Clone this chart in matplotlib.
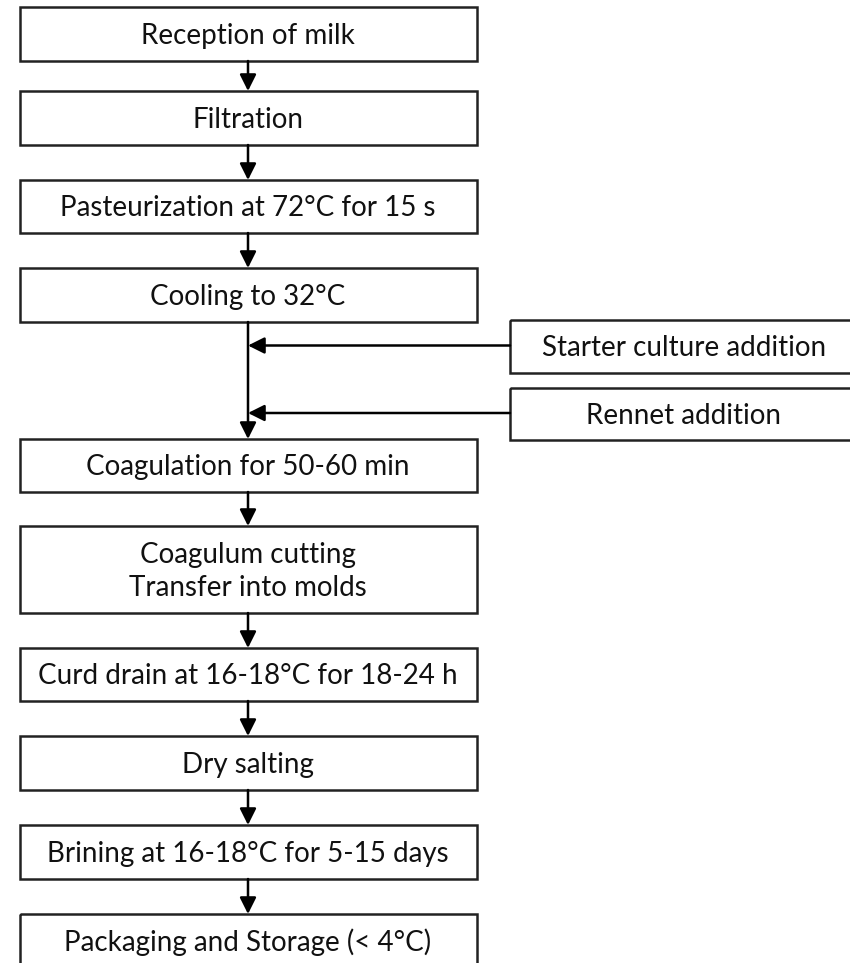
import matplotlib
matplotlib.use("Agg")
import matplotlib.pyplot as plt
from matplotlib.patches import Rectangle

# Flowchart content
steps = ["Reception of milk",
         "Filtration",
         "Pasteurization at 72°C for 15 s",
         "Cooling to 32°C",
         "Coagulation for 50-60 min",
         "Coagulum cutting\nTransfer into molds",
         "Curd drain at 16-18°C for 18-24 h",
         "Dry salting",
         "Brining at 16-18°C for 5-15 days",
         "Packaging and Storage (< 4°C)"]
side_steps = ["Starter culture addition", "Rennet addition"]

# Layout in pixels (figure is 850 x 963)
W, H = 850, 963
main_left, main_right = 20, 477
main_tops = [7, 91, 180, 268, 439, 526, 648, 736, 825, 914]
main_bots = [61, 145, 233, 322, 492, 613, 701, 790, 879, 985]
side_left, side_right = 510, 860
side_tops = [320, 388]
side_bots = [373, 440]
line_x = 248

fontsize = 20
font = "Lato"
lw = 1.8

fig = plt.figure(figsize=(W / 100, H / 100), dpi=100)
ax = fig.add_axes([0, 0, 1, 1])
ax.set_xlim(0, W)
ax.set_ylim(H, 0)
ax.axis("off")

arrow_kw = dict(arrowstyle="-|>,head_length=0.9,head_width=0.45", color="black",
                lw=lw, shrinkA=0, shrinkB=0, mutation_scale=11)

for i, label in enumerate(steps):
    top, bot = main_tops[i], main_bots[i]
    ax.add_patch(Rectangle((main_left, top), main_right - main_left, bot - top,
                           fill=False, edgecolor="#222222", lw=lw))
    ycen = (top + bot) / 2 + 2 if i < len(steps) - 1 else top + 28
    ax.text(line_x, ycen, label, ha="center", va="center", fontsize=fontsize,
            family=font, color="#111111", linespacing=1.3)

# arrows between main boxes
for i in range(len(steps) - 1):
    ax.annotate("", xy=(line_x, main_tops[i + 1]), xytext=(line_x, main_bots[i]),
                arrowprops=arrow_kw)

# side boxes feeding into the line
for j, label in enumerate(side_steps):
    top, bot = side_tops[j], side_bots[j]
    ax.add_patch(Rectangle((side_left, top), side_right - side_left, bot - top,
                           fill=False, edgecolor="#222222", lw=lw))
    ax.text(684, (top + bot) / 2 + 2, label, ha="center", va="center",
            fontsize=fontsize, family=font, color="#111111")
    ymid = (top + bot) / 2 - 1
    ax.annotate("", xy=(line_x, ymid), xytext=(side_left, ymid), arrowprops=arrow_kw)

fig.savefig("out.png", dpi=100, facecolor="white")
